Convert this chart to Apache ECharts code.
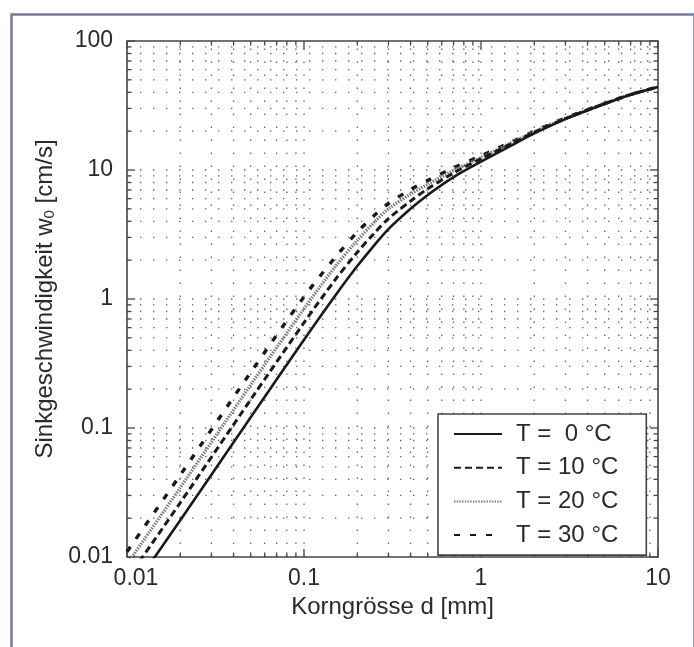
<!DOCTYPE html>
<html>
<head>
<meta charset="utf-8">
<script src="https://cdn.jsdelivr.net/npm/echarts@6/dist/echarts.min.js"></script>
<style>
html,body{margin:0;padding:0;background:#fff;}
#chart{width:694px;height:647px;}
</style>
</head>
<body>
<div id="chart"></div>
<script>
// ---- data ----
const grainSize = [0.01, 0.02, 0.05, 0.1, 0.15, 0.2, 0.25, 0.3, 0.4, 0.5, 0.7, 1, 1.5, 2, 3, 5, 7, 10]; // mm
const w0_T0  = [0.0049, 0.0193, 0.121, 0.483, 1.06, 1.8, 2.62, 3.48, 5.0, 6.4, 8.8, 11.6, 15.6, 19.2, 24.8, 32.5, 38.3, 44];
const w0_T10 = [0.0067, 0.0264, 0.166, 0.655, 1.41, 2.3, 3.25, 4.2, 5.75, 7.15, 9.5, 12.2, 16.1, 19.6, 25.0, 32.7, 38.4, 44];
const w0_T20 = [0.0088, 0.0345, 0.216, 0.84, 1.78, 2.85, 3.95, 5.0, 6.5, 7.75, 9.9, 12.5, 16.4, 19.8, 25.2, 32.8, 38.5, 44];
const w0_T30 = [0.011, 0.0432, 0.27, 1.04, 2.1, 3.3, 4.45, 5.5, 7.05, 8.3, 10.4, 12.9, 16.6, 20.0, 25.3, 32.9, 38.5, 44];
const seriesNames = ['T =  0 °C', 'T = 10 °C', 'T = 20 °C', 'T = 30 °C'];
const xTickLabels = ['0.01', '0.1', '1', '10'];
const yTickLabels = ['0.01', '0.1', '1', '10', '100'];
const xDecades = [-2, -1, 0];     // minor grid decades on x
const yDecades = [-2, -1, 0, 1];  // minor grid decades on y

const FONT = '"Liberation Sans", Arial, Helvetica, sans-serif';
const TXT = '#2a2a2a';

function pairs(ys){ return grainSize.map((x,i)=>[x, ys[i]]); }
function gridValues(decs, last){
  const v = [];
  decs.forEach(e => { for (let k=1;k<=9;k++) v.push(k*Math.pow(10,e)); });
  v.push(last);
  return v;
}
const xGrid = gridValues(xDecades, 10);
const yGrid = gridValues(yDecades, 100);
function isMajor(v){ const l = Math.log10(v); return Math.abs(l - Math.round(l)) < 1e-9; }

const chart = echarts.init(document.getElementById('chart'), null, {renderer:'canvas'});

function renderGrid(params, api){
  const children = [];
  const x0 = 0.01, x1 = 10, y0 = 0.01, y1 = 100;
  const dot = {stroke:'#666', lineWidth:1.3, lineDash:[1.4, 11.6]};
  const tk = {stroke:'#444', lineWidth:1.3};
  xGrid.forEach(v => {
    const a = api.coord([v, y0]), b = api.coord([v, y1]);
    if (v > x0 && v < x1) {
      children.push({type:'line', shape:{x1:a[0],y1:a[1],x2:b[0],y2:b[1]}, style:dot, silent:true});
    }
    const L = isMajor(v) ? 8 : 4.5;
    children.push({type:'line', shape:{x1:a[0],y1:a[1],x2:a[0],y2:a[1]-L}, style:tk, silent:true});
    children.push({type:'line', shape:{x1:b[0],y1:b[1],x2:b[0],y2:b[1]+L}, style:tk, silent:true});
  });
  yGrid.forEach(v => {
    const a = api.coord([x0, v]), b = api.coord([x1, v]);
    if (v > y0 && v < y1) {
      children.push({type:'line', shape:{x1:a[0],y1:a[1],x2:b[0],y2:b[1]}, style:dot, silent:true});
    }
    const L = isMajor(v) ? 8 : 4.5;
    children.push({type:'line', shape:{x1:a[0],y1:a[1],x2:a[0]+L,y2:a[1]}, style:tk, silent:true});
    children.push({type:'line', shape:{x1:b[0],y1:b[1],x2:b[0]-L,y2:b[1]}, style:tk, silent:true});
  });
  return {type:'group', children};
}

const lineStyles = [
  {color:'#1a1a1a', width:2.6, type:'solid'},
  {color:'#1a1a1a', width:3, type:[7,4]},
  {color:'#7a7a7a', width:3.2, type:[1.5,1.2]},
  {color:'#1a1a1a', width:3.4, type:[6,10]}
];
const datasets = [w0_T0, w0_T10, w0_T20, w0_T30];

const option = {
  animation:false,
  backgroundColor:'#fff',
  textStyle:{fontFamily:FONT},
  graphic:[{
    type:'rect', left:9, top:12, silent:true,
    shape:{x:0,y:0,width:683,height:700},
    style:{fill:'none', stroke:'#6f7bab', lineWidth:2.5}, z:100
  }],
  grid:{left:127, top:41, width:531, height:516, show:true, borderColor:'#444', borderWidth:1.6, backgroundColor:'transparent'},
  xAxis:{
    type:'log', logBase:10, min:0.01, max:10,
    name:'Korngrösse d [mm]', nameLocation:'middle', nameGap:37,
    nameTextStyle:{fontSize:24, color:TXT, fontFamily:FONT, verticalAlign:'top'},
    axisLine:{show:false}, axisTick:{show:false}, splitLine:{show:false},
    axisLabel:{fontSize:23, color:TXT, margin:10, fontFamily:FONT,
      formatter:v => {
        const i = Math.round(Math.log10(v)) + 2;
        return i === 0 ? '{f|' + xTickLabels[0] + '}' : (xTickLabels[i] || '');
      },
      rich:{f:{fontSize:23, color:TXT, fontFamily:FONT, padding:[0,0,0,18]}}
    }
  },
  yAxis:{
    type:'log', logBase:10, min:0.01, max:100,
    name:'{b|Sinkgeschwindigkeit w}{s|0}{b| [cm/s]}', nameLocation:'middle', nameGap:58,
    nameTextStyle:{color:TXT, fontFamily:FONT, rich:{
      b:{fontSize:24, color:TXT, fontFamily:FONT, lineHeight:24, verticalAlign:'top'},
      s:{fontSize:15, color:TXT, fontFamily:FONT, lineHeight:15, verticalAlign:'bottom'}
    }},
    axisLine:{show:false}, axisTick:{show:false}, splitLine:{show:false},
    axisLabel:{fontSize:23, color:TXT, margin:14, fontFamily:FONT,
      formatter:v => yTickLabels[Math.round(Math.log10(v)) + 2] || ''}
  },
  legend:{
    data:seriesNames,
    orient:'vertical', left:438, top:414,
    padding:[8, 28, 8, 15],
    itemWidth:48, itemHeight:14, itemGap:9.7,
    borderColor:'#444', borderWidth:1.6, backgroundColor:'#fff',
    itemStyle:{color:'rgba(0,0,0,0)', borderWidth:0, opacity:0},
    textStyle:{fontSize:24, color:TXT, fontFamily:FONT, lineHeight:22, padding:[0,0,0,9]},
    selectedMode:false
  },
  series:[
    {type:'custom', name:'grid', data:[[1,1]], renderItem:renderGrid, silent:true, z:1, clip:false},
    ...datasets.map((d,i)=>({
      type:'line', name:seriesNames[i], data:pairs(d), symbol:'none', smooth:0.3,
      lineStyle:lineStyles[i], itemStyle:{color:lineStyles[i].color}, z:3+(3-i), clip:true
    }))
  ]
};
chart.setOption(option);
</script>
</body>
</html>
